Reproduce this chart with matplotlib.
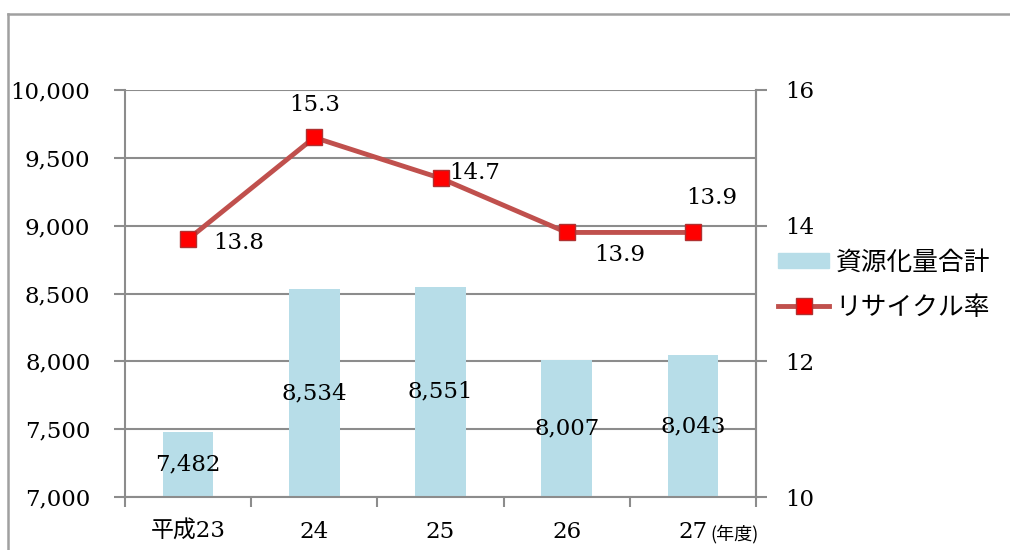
import matplotlib
matplotlib.use("Agg")
import matplotlib.pyplot as plt
from matplotlib.lines import Line2D
import numpy as np

categories = ["平成23", "24", "25", "26", "27"]
amounts = [7482, 8534, 8551, 8007, 8043]
rates = [13.8, 15.3, 14.7, 13.9, 13.9]
amount_labels = ["7,482", "8,534", "8,551", "8,007", "8,043"]
rate_labels = ["13.8", "15.3", "14.7", "13.9", "13.9"]
left_ticks = [7000, 7500, 8000, 8500, 9000, 9500, 10000]
right_ticks = [10, 12, 14, 16]

SERIF = ["DejaVu Serif", "Noto Sans CJK JP"]
BAR_C = "#B7DDE8"
LINE_C = "#C0504D"
GRID_C = "#8C8C8C"
FS = 16.5

plt.rcParams["font.family"] = SERIF

fig = plt.figure(figsize=(10.1, 5.5), dpi=100)
W, H = 1010, 550
ax = fig.add_axes([125 / W, 1 - 497 / H, (756 - 125) / W, (497 - 90) / H])

x = np.arange(len(categories))
bars = ax.bar(x, amounts, width=0.40, color=BAR_C, zorder=2, label="資源化量合計")
ax.set_ylim(7000, 10000)
ax.set_xlim(-0.5, len(categories) - 0.5)
ax.set_yticks(left_ticks)
ax.set_yticklabels([f"{v:,}" for v in left_ticks], fontsize=FS)
ax.yaxis.grid(True, color=GRID_C, lw=1.5, zorder=0)
ax.set_axisbelow(True)
ax.set_xticks(np.arange(-0.5, len(categories), 1.0), minor=False)
ax.set_xticklabels([])
ax.tick_params(axis="x", length=7, width=1.5, color=GRID_C)
ax.tick_params(axis="y", length=8, width=1.5, color=GRID_C, pad=17)
for i, c in enumerate(categories):
    ax.text(i, -0.085, c, transform=ax.get_xaxis_transform(), ha="center", va="center",
            fontsize=FS, family=SERIF)
ax.text(4.135, -0.09, "(年度)", transform=ax.get_xaxis_transform(), ha="left", va="center",
        fontsize=13, family=["Noto Sans CJK JP"])

for s in ["top"]:
    ax.spines[s].set_visible(False)
for s in ["left", "right", "bottom"]:
    ax.spines[s].set_color(GRID_C)
    ax.spines[s].set_linewidth(1.5)

for i, (v, lab) in enumerate(zip(amounts, amount_labels)):
    ax.text(i, (7000 + v) / 2, lab, ha="center", va="center", fontsize=FS, zorder=5)

ax2 = ax.twinx()
ax2.set_ylim(10, 16)
ax2.set_yticks(right_ticks)
ax2.set_yticklabels([str(v) for v in right_ticks], fontsize=FS)
ax2.tick_params(axis="y", length=8, width=1.5, color=GRID_C, pad=13)
for s in ["top", "left", "bottom"]:
    ax2.spines[s].set_visible(False)
ax2.spines["right"].set_color(GRID_C)
ax2.spines["right"].set_linewidth(1.5)

ln, = ax2.plot(x, rates, color=LINE_C, lw=3.5, marker="s", markersize=12,
               markerfacecolor="#FF0000", markeredgecolor="#B03030", markeredgewidth=1,
               zorder=4, label="リサイクル率")

offsets = [(0.40, -0.06), (0, 0.48), (0.27, 0.08), (0.42, -0.33), (0.15, 0.51)]
for i, (v, lab) in enumerate(zip(rates, rate_labels)):
    dx, dy = offsets[i]
    ax2.text(i + dx, v + dy, lab, ha="center", va="center", fontsize=FS, zorder=5)

leg_bar = plt.Rectangle((0, 0), 1, 1, color=BAR_C)
leg_line = Line2D([0], [0], color=LINE_C, lw=3.5, marker="s", markersize=12,
                  markerfacecolor="#FF0000", markeredgecolor="#B03030", markeredgewidth=1)
fig.legend([leg_bar, leg_line], ["資源化量合計", "リサイクル率"], loc="center left",
           bbox_to_anchor=(778 / W, 1 - 285 / H), frameon=False, handlelength=2.0,
           handleheight=0.55, labelspacing=0.75, handletextpad=0.25,
           borderaxespad=0, borderpad=0,
           prop={"family": ["Noto Sans CJK JP"], "size": 18.5})

# outer frame
fig.add_artist(Line2D([8 / W, 1.0], [1 - 14 / H, 1 - 14 / H], transform=fig.transFigure,
                      color="#A0A0A0", lw=1.8))
fig.add_artist(Line2D([8 / W, 8 / W], [0, 1 - 14 / H], transform=fig.transFigure,
                      color="#A0A0A0", lw=1.8))

fig.savefig("out.png", dpi=100)
